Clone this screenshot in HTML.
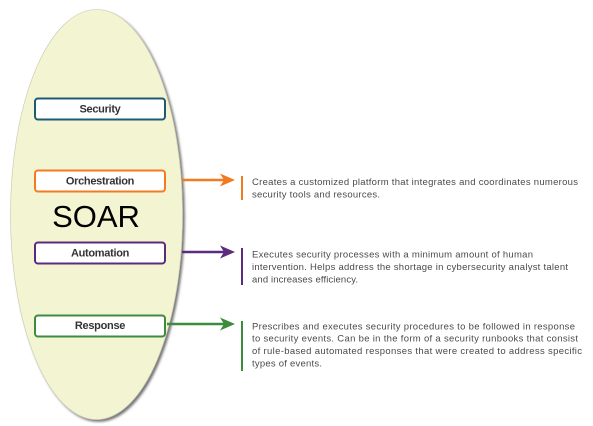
<!DOCTYPE html>
<html><head><meta charset="utf-8"><style>
html,body{margin:0;padding:0;background:#fff;}
svg{display:block;}
text{font-family:"Liberation Sans",Arial,sans-serif;}
.lbl{font-size:11px;font-weight:bold;fill:#333;letter-spacing:-0.3px;}
.d{font-size:9.5px;fill:#4a4a4a;}
</style></head><body>
<svg width="593" height="426" viewBox="0 0 593 426" xmlns="http://www.w3.org/2000/svg">
<defs>
<filter id="sh" x="-10%" y="-10%" width="130%" height="130%">
<feDropShadow dx="2" dy="2" stdDeviation="1.2" flood-color="#000" flood-opacity="0.55"/>
</filter>
</defs>
<ellipse cx="96.5" cy="214.5" rx="86" ry="205" fill="#f3f4d2" stroke="#c8c8b0" stroke-width="0.6" filter="url(#sh)"/>
<g stroke-width="2" fill="#fff">
<rect x="35" y="98.5" width="130" height="21" rx="3" stroke="#1f5a73"/>
<rect x="35" y="170.5" width="130" height="21" rx="3" stroke="#f47a20"/>
<rect x="35" y="242.5" width="130" height="21" rx="3" stroke="#5b2c7e"/>
<rect x="35" y="315.5" width="130" height="21" rx="3" stroke="#3d8c3d"/>
</g>
<text class="lbl" x="100" y="112.5" text-anchor="middle">Security</text>
<text class="lbl" x="100" y="184.5" text-anchor="middle">Orchestration</text>
<text class="lbl" x="100" y="256.5" text-anchor="middle">Automation</text>
<text class="lbl" x="100" y="329" text-anchor="middle">Response</text>
<text x="96" y="227" text-anchor="middle" font-size="31" fill="#000">SOAR</text>
<g stroke-width="2.5" fill="none">
<line x1="182" y1="180" x2="230" y2="180" stroke="#f47a20"/>
<line x1="182" y1="252" x2="230" y2="252" stroke="#5b2c7e"/>
<line x1="167" y1="324" x2="230" y2="324" stroke="#3d8c3d"/>
</g>
<polygon points="220,173.5 235,180 220,186.5 224,180" fill="#f47a20"/>
<polygon points="220,245.5 235,252 220,258.5 224,252" fill="#5b2c7e"/>
<polygon points="220,317.5 235,324 220,330.5 224,324" fill="#3d8c3d"/>
<rect x="241" y="176" width="2" height="24" fill="#f47a20"/>
<rect x="241" y="248" width="2" height="37" fill="#5b2c7e"/>
<rect x="241" y="321" width="2" height="50" fill="#3d8c3d"/>
<text class="d" x="252" y="185" textLength="326" lengthAdjust="spacing">Creates a customized platform that integrates and coordinates numerous</text>
<text class="d" x="252" y="197.5" textLength="128" lengthAdjust="spacing">security tools and resources.</text>
<text class="d" x="252" y="257.5" textLength="281" lengthAdjust="spacing">Executes security processes with a minimum amount of human</text>
<text class="d" x="252" y="270" textLength="316" lengthAdjust="spacing">intervention. Helps address the shortage in cybersecurity analyst talent</text>
<text class="d" x="252" y="282.5" textLength="106" lengthAdjust="spacing">and increases efficiency.</text>
<text class="d" x="252" y="329.5" textLength="323" lengthAdjust="spacing">Prescribes and executes security procedures to be followed in response</text>
<text class="d" x="252" y="341.5" textLength="326" lengthAdjust="spacing">to security events. Can be in the form of a security runbooks that consist</text>
<text class="d" x="252" y="354" textLength="330" lengthAdjust="spacing">of rule-based automated responses that were created to address specific</text>
<text class="d" x="252" y="366.5" textLength="70" lengthAdjust="spacing">types of events.</text>
</svg>
</body></html>
